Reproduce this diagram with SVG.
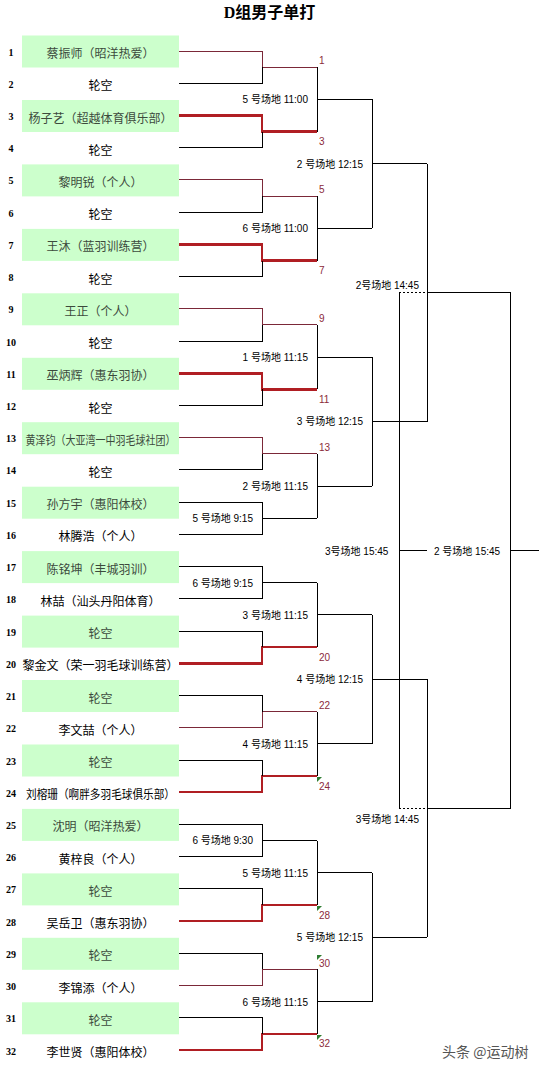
<svg xmlns="http://www.w3.org/2000/svg" width="539" height="1069" viewBox="0 0 539 1069">
<style>
.k{stroke:#000;stroke-width:1;fill:none}
.r{stroke:#7b2838;stroke-width:1;fill:none}
.R{stroke:#b01e23;stroke-width:2.5;fill:none}
.d{stroke:#000;stroke-width:1;fill:none;stroke-dasharray:2 2}
.box{fill:#ccffcc}
.num{font-family:"Liberation Serif","Noto Sans CJK SC",serif;font-weight:bold;font-size:10px;fill:#000;text-anchor:middle}
.nm{font-family:"Liberation Sans","Noto Sans CJK SC",sans-serif;font-size:12px;fill:#000;text-anchor:middle}
.gn{font-family:"Liberation Sans","Noto Sans CJK SC",sans-serif;font-size:12px;fill:#3c4a3c;text-anchor:middle}
.lb{font-family:"Liberation Sans","Noto Sans CJK SC",sans-serif;font-size:10px;fill:#000;text-anchor:end}
.lc{font-family:"Liberation Sans","Noto Sans CJK SC",sans-serif;font-size:10px;fill:#000}
.wn{font-family:"Liberation Sans","Noto Sans CJK SC",sans-serif;font-size:10px;fill:#8b2a3a}
.tri{fill:#2e7d32}
</style>
<rect width="539" height="1069" fill="#fff"/>
<text x="269.5" y="18" font-family="Liberation Serif,Noto Sans CJK SC,serif" font-weight="bold" font-size="16" text-anchor="middle">D组男子单打</text>

<g id="players">
<g id="p1"><rect class="box" x="22" y="35.5" width="157" height="32"/><text class="num" x="11" y="55.5">1</text><text class="gn" x="100.5" y="58">蔡振师（昭洋热爱）</text></g>
<g id="p2"><text class="num" x="11" y="87.7">2</text><text class="nm" x="100.5" y="90.2">轮空</text></g>
<g id="p3"><rect class="box" x="22" y="100" width="157" height="32"/><text class="num" x="11" y="120">3</text><text class="gn" x="100.5" y="122.5">杨子艺（超越体育俱乐部）</text></g>
<g id="p4"><text class="num" x="11" y="152.2">4</text><text class="nm" x="100.5" y="154.7">轮空</text></g>
<g id="p5"><rect class="box" x="22" y="164.4" width="157" height="32"/><text class="num" x="11" y="184.4">5</text><text class="gn" x="100.5" y="186.9">黎明锐（个人）</text></g>
<g id="p6"><text class="num" x="11" y="216.6">6</text><text class="nm" x="100.5" y="219.1">轮空</text></g>
<g id="p7"><rect class="box" x="22" y="228.9" width="157" height="32"/><text class="num" x="11" y="248.9">7</text><text class="gn" x="100.5" y="251.4">王沐（蓝羽训练营）</text></g>
<g id="p8"><text class="num" x="11" y="281.1">8</text><text class="nm" x="100.5" y="283.6">轮空</text></g>
<g id="p9"><rect class="box" x="22" y="293.3" width="157" height="32"/><text class="num" x="11" y="313.3">9</text><text class="gn" x="100.5" y="315.8">王正（个人）</text></g>
<g id="p10"><text class="num" x="11" y="345.5">10</text><text class="nm" x="100.5" y="348">轮空</text></g>
<g id="p11"><rect class="box" x="22" y="357.8" width="157" height="32"/><text class="num" x="11" y="377.8">11</text><text class="gn" x="100.5" y="380.3">巫炳辉（惠东羽协）</text></g>
<g id="p12"><text class="num" x="11" y="410">12</text><text class="nm" x="100.5" y="412.5">轮空</text></g>
<g id="p13"><rect class="box" x="22" y="422.2" width="157" height="32"/><text class="num" x="11" y="442.2">13</text><text class="gn" x="100.5" y="444.7" textLength="150" lengthAdjust="spacingAndGlyphs">黄泽钧（大亚湾一中羽毛球社团）</text></g>
<g id="p14"><text class="num" x="11" y="474.4">14</text><text class="nm" x="100.5" y="476.9">轮空</text></g>
<g id="p15"><rect class="box" x="22" y="486.7" width="157" height="32"/><text class="num" x="11" y="506.7">15</text><text class="gn" x="100.5" y="509.2">孙方宇（惠阳体校）</text></g>
<g id="p16"><text class="num" x="11" y="538.9">16</text><text class="nm" x="100.5" y="541.4">林腾浩（个人）</text></g>
<g id="p17"><rect class="box" x="22" y="551.1" width="157" height="32"/><text class="num" x="11" y="571.1">17</text><text class="gn" x="100.5" y="573.6">陈铭坤（丰城羽训）</text></g>
<g id="p18"><text class="num" x="11" y="603.3">18</text><text class="nm" x="100.5" y="605.8">林喆（汕头丹阳体育）</text></g>
<g id="p19"><rect class="box" x="22" y="615.6" width="157" height="32"/><text class="num" x="11" y="635.6">19</text><text class="gn" x="100.5" y="638.1">轮空</text></g>
<g id="p20"><text class="num" x="11" y="667.8">20</text><text class="nm" x="100.5" y="670.3">黎金文（荣一羽毛球训练营）</text></g>
<g id="p21"><rect class="box" x="22" y="680" width="157" height="32"/><text class="num" x="11" y="700">21</text><text class="gn" x="100.5" y="702.5">轮空</text></g>
<g id="p22"><text class="num" x="11" y="732.2">22</text><text class="nm" x="100.5" y="734.7">李文喆（个人）</text></g>
<g id="p23"><rect class="box" x="22" y="744.5" width="157" height="32"/><text class="num" x="11" y="764.5">23</text><text class="gn" x="100.5" y="767">轮空</text></g>
<g id="p24"><text class="num" x="11" y="796.7">24</text><text class="nm" x="100.5" y="799.2" textLength="149" lengthAdjust="spacingAndGlyphs">刘榕珊（啊胖多羽毛球俱乐部）</text></g>
<g id="p25"><rect class="box" x="22" y="808.9" width="157" height="32"/><text class="num" x="11" y="828.9">25</text><text class="gn" x="100.5" y="831.4">沈明（昭洋热爱）</text></g>
<g id="p26"><text class="num" x="11" y="861.1">26</text><text class="nm" x="100.5" y="863.6">黄梓良（个人）</text></g>
<g id="p27"><rect class="box" x="22" y="873.4" width="157" height="32"/><text class="num" x="11" y="893.4">27</text><text class="gn" x="100.5" y="895.9">轮空</text></g>
<g id="p28"><text class="num" x="11" y="925.6">28</text><text class="nm" x="100.5" y="928.1">吴岳卫（惠东羽协）</text></g>
<g id="p29"><rect class="box" x="22" y="937.8" width="157" height="32"/><text class="num" x="11" y="957.8">29</text><text class="gn" x="100.5" y="960.3">轮空</text></g>
<g id="p30"><text class="num" x="11" y="990">30</text><text class="nm" x="100.5" y="992.5">李锦添（个人）</text></g>
<g id="p31"><rect class="box" x="22" y="1002.3" width="157" height="32"/><text class="num" x="11" y="1022.3">31</text><text class="gn" x="100.5" y="1024.8">轮空</text></g>
<g id="p32"><text class="num" x="11" y="1054.5">32</text><text class="nm" x="100.5" y="1057">李世贤（惠阳体校）</text></g>
</g>

<g id="connectors" shape-rendering="crispEdges">
<path class="r" d="M179 51H262V67.1H317"/><path class="k" d="M179 83.2H262V67.1"/>
<path class="R" d="M179 115.5H262V131.6H317"/><path class="k" d="M179 147.7H262V131.6"/>
<path class="r" d="M179 179.9H262V196H317"/><path class="k" d="M179 212.1H262V196"/>
<path class="R" d="M179 244.4H262V260.5H317"/><path class="k" d="M179 276.6H262V260.5"/>
<path class="r" d="M179 308.8H262V324.9H317"/><path class="k" d="M179 341H262V324.9"/>
<path class="R" d="M179 373.3H262V389.4H317"/><path class="k" d="M179 405.5H262V389.4"/>
<path class="r" d="M179 437.7H262V453.8H317"/><path class="k" d="M179 469.9H262V453.8"/>
<path class="k" d="M179 502.2H262V534.4H179M262 518.3H317"/>
<path class="k" d="M179 566.6H262V598.8H179M262 582.7H317"/>
<path class="R" d="M179 663.3H262V647.2H317"/><path class="k" d="M179 631.1H262V647.2"/>
<path class="r" d="M179 727.7H262V711.6H317"/><path class="k" d="M179 695.5H262V711.6"/>
<path class="R" d="M179 792.2H262V776.1H317"/><path class="k" d="M179 760H262V776.1"/>
<path class="k" d="M179 824.4H262V856.6H179M262 840.5H317"/>
<path class="R" d="M179 921.1H262V905H317"/><path class="k" d="M179 888.9H262V905"/>
<path class="r" d="M179 985.5H262V969.4H317"/><path class="k" d="M179 953.3H262V969.4"/>
<path class="R" d="M179 1050H262V1033.9H317"/><path class="k" d="M179 1017.8H262V1033.9"/>
<path class="k" d="M317 67.1V131.6M317 99.4H372M317 196V260.5M317 228.3H372M317 324.9V389.4M317 357.2H372M317 453.8V518.3M317 486.1H372M317 582.7V647.2M317 614.9H372M317 711.6V776.1M317 743.9H372M317 840.5V905M317 872.8H372M317 969.4V1033.9M317 1001.7H372"/>
<path class="k" d="M372 99.4V228.3M372 163.8H427M372 357.2V486.1M372 421.6H427M372 614.9V743.9M372 679.4H427M372 872.8V1001.7M372 937.2H427"/>
<path class="k" d="M427 163.8V421.6M427 679.4V937.2M427 292.7H510V808.3H427M399 292.7V808.3M399 550.5H427M510 550.5H539"/>
<path class="d" d="M399 292.7H427M399 808.3H427"/>
</g>

<g id="winners">
<text class="wn" x="319" y="64.4">1</text>
<text class="wn" x="319" y="145.1">3</text>
<text class="wn" x="319" y="193.3">5</text>
<text class="wn" x="319" y="274">7</text>
<text class="wn" x="319" y="322.2">9</text>
<text class="wn" x="319" y="402.9">11</text>
<text class="wn" x="319" y="451.1">13</text>
<text class="wn" x="319" y="660.7">20</text>
<text class="wn" x="319" y="708.9">22</text>
<text class="wn" x="319" y="789.6">24</text>
<text class="wn" x="319" y="918.5">28</text>
<text class="wn" x="319" y="966.7">30</text>
<text class="wn" x="319" y="1047.4">32</text>
<path class="tri" d="M317 777H322L317 782Z"/>
<path class="tri" d="M317 906H322L317 911Z"/>
<path class="tri" d="M317 955H322L317 960Z"/>
<path class="tri" d="M317 1035H322L317 1040Z"/>
</g>

<g id="matches">
<text class="lb" x="253" y="522.1">5 号场地 9:15</text>
<text class="lb" x="253" y="586.5">6 号场地 9:15</text>
<text class="lb" x="253" y="844.3">6 号场地 9:30</text>
<text class="lb" x="308" y="103.2">5 号场地 11:00</text>
<text class="lb" x="308" y="232.1">6 号场地 11:00</text>
<text class="lb" x="308" y="361">1 号场地 11:15</text>
<text class="lb" x="308" y="489.9">2 号场地 11:15</text>
<text class="lb" x="308" y="618.7">3 号场地 11:15</text>
<text class="lb" x="308" y="747.7">4 号场地 11:15</text>
<text class="lb" x="308" y="876.6">5 号场地 11:15</text>
<text class="lb" x="308" y="1005.5">6 号场地 11:15</text>
<text class="lb" x="363" y="167.6">2 号场地 12:15</text>
<text class="lb" x="363" y="425.4">3 号场地 12:15</text>
<text class="lb" x="363" y="683.2">4 号场地 12:15</text>
<text class="lb" x="363" y="941">5 号场地 12:15</text>
<text class="lb" x="419" y="289">2号场地 14:45</text>
<text class="lb" x="419" y="822.5">3号场地 14:45</text>
<text class="lc" x="325" y="554.5">3号场地 15:45</text>
<text class="lc" x="434" y="554.5">2 号场地 15:45</text>
</g>

<text x="442" y="1057" font-family="Noto Sans CJK SC,sans-serif" font-size="14" fill="#555">头条 @运动树</text>
</svg>
